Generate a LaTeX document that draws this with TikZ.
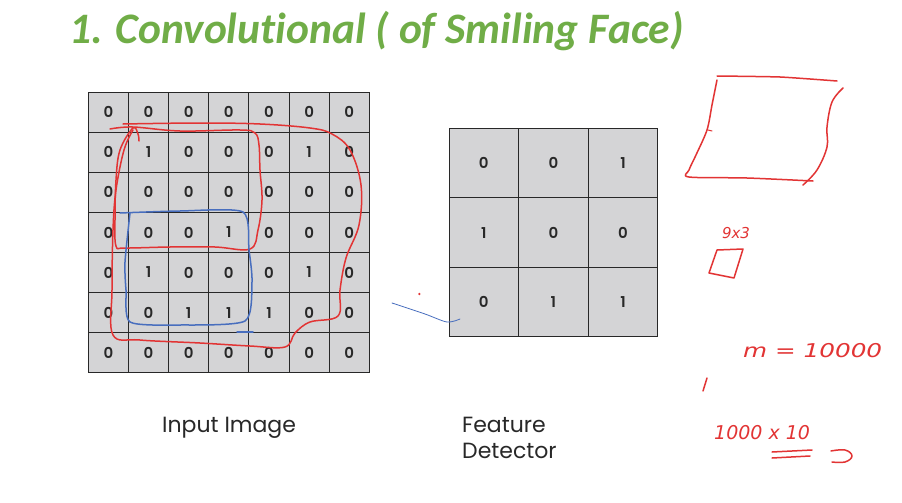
\documentclass[tikz,border=0pt]{standalone}
\usepackage{fontspec}
\setmainfont{Poppins}
\newfontfamily\titlefont[Ligatures=CommonOff]{Carlito}
\newfontfamily\handfont{DejaVu Sans}
\newfontfamily\digitfont{Poppins SemiBold}
\definecolor{titlegreen}{RGB}{112,173,71}
\definecolor{cellgray}{RGB}{212,212,214}
\definecolor{gridline}{RGB}{40,40,40}
\definecolor{inkred}{RGB}{226,52,52}
\definecolor{inkblue}{RGB}{72,110,190}
\definecolor{labelgray}{RGB}{40,40,40}
\begin{document}
\begin{tikzpicture}[x=1pt,y=-1pt,
  incell/.style={draw=gridline, fill=cellgray, line width=0.9pt,
    minimum width=40.15pt, minimum height=40.1pt, inner sep=0pt,
    text=labelgray, font=\digitfont\fontsize{15}{16}\selectfont},
  fcell/.style={incell, minimum width=69.6pt, minimum height=69.5pt},
  caption/.style={anchor=base west, inner sep=0pt, text=labelgray,
    font=\fontsize{22}{26}\selectfont},
  redink/.style={draw=inkred, line width=1.5pt, line cap=round, line join=round},
  blueink/.style={draw=inkblue, line width=1.5pt, line cap=round, line join=round},
  hand/.style={inner sep=0pt, text=inkred, font=\handfont\itshape\fontsize{19}{20}\selectfont}]
\useasboundingbox (0,0) rectangle (902,503);
\fill[white] (0,0) rectangle (902,503);

% title
\node[anchor=base west, inner sep=0pt, text=titlegreen,
  font=\titlefont\bfseries\itshape\fontsize{43.5}{46}\selectfont] (title) at (69,44)
  {1. Convolutional ( of Smiling Face)};

% 7x7 input image
\foreach \r/\row in {0/{0,0,0,0,0,0,0}, 1/{0,1,0,0,0,1,0}, 2/{0,0,0,0,0,0,0},
                     3/{0,0,0,1,0,0,0}, 4/{0,1,0,0,0,1,0}, 5/{0,0,1,1,1,0,0},
                     6/{0,0,0,0,0,0,0}}
  \foreach \v [count=\c from 0] in \row
    \node[incell] (in-\r-\c) at ({88.3+40.15*(\c+0.5)},{92.3+40.05*(\r+0.5)}) {\v};

% 3x3 feature detector
\foreach \r/\row in {0/{0,0,1}, 1/{1,0,0}, 2/{0,1,1}}
  \foreach \v [count=\c from 0] in \row
    \node[fcell] (fd-\r-\c) at ({449+69.6*(\c+0.5)},{128.3+69.5*(\r+0.5)}) {\v};

% captions
\node[caption] (inlabel) at (162,432) {Input Image};
\node[caption] (fdlabel1) at (462,432) {Feature};
\node[caption] (fdlabel2) at (462,458) {Detector};

% red loops over the input image
\draw[redink] plot[smooth, tension=0.6] coordinates {(110,129) (133,127) (180,131)
  (240,130) (255,133) (259,145) (260,170) (262,200) (258,230) (250,249) (215,247)
  (170,247) (125,248) (116,246) (115,220) (116,180) (120,150) (133,128) (138,134) (139,141)};
\draw[redink] plot[smooth, tension=0.6] coordinates {(123,124) (200,123) (260,124)
  (310,128) (332,134) (350,150) (361,185) (359,225) (346,258) (340,290) (338,316)
  (310,322) (295,333) (285,347) (250,346) (200,343) (140,340) (113,335) (112,290)
  (113,230) (116,190) (124,150) (133,130)};

% blue window over the input image
\draw[blueink] plot[smooth, tension=0.4] coordinates {(120,213) (180,211) (243,212)
  (249,250) (252,282) (245,321) (180,325) (130,322) (126,290) (125,262) (130,213)};
\draw[blueink] (237,332) -- (253,332);

% stray marks near the detector
\draw[draw=inkblue, line width=0.8pt, line cap=round] plot[smooth, tension=0.5]
  coordinates {(392,303) (425,314) (447,322) (460,319)};
\fill[inkred] (419.3,294) circle (1.3pt);

% notes on the right
\draw[redink] plot[smooth, tension=0.3] coordinates {(717,76) (780,77) (837,81)};
\draw[redink] plot[smooth, tension=0.5] coordinates {(717,80) (712,105) (707,130)
  (696,155) (689,170) (689,177) (747,178) (813,181)};
\draw[redink, line width=1pt] (708,130) -- (712,131);
\draw[redink] plot[smooth, tension=0.6] coordinates {(843,88) (832,102) (827,127)
  (827,147) (817,170) (803,185)};

\node[hand, font=\handfont\itshape\fontsize{15}{16}\selectfont] (dims) at (736,233) {9x3};
\draw[redink] (717,250) -- (743,249) -- (734,278) -- (709,273) -- cycle;

\node[hand, anchor=west] (mval) at (743,351) {\scalebox{1.3}[1]{m = 10000}};
\draw[redink] (707,378) -- (703,391);
\node[hand, anchor=west] (prod) at (714,433) {1000 x 10};
\draw[redink] (772,452) -- (812,450);
\draw[redink] (772,458) -- (810,456);
\draw[redink] plot[smooth, tension=0.7] coordinates {(831,451) (845,450) (852,456)
  (845,462) (832,462)};
\end{tikzpicture}
\end{document}
